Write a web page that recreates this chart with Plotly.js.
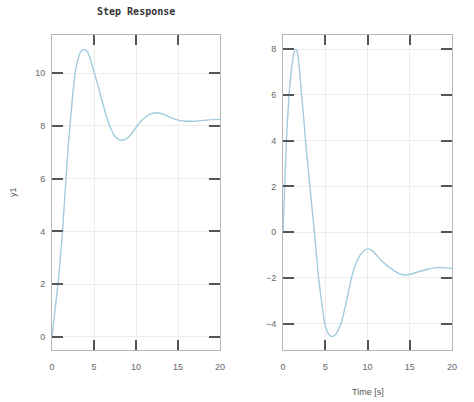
<!DOCTYPE html>
<html>
<head>
<meta charset="utf-8">
<script src="https://cdn.plot.ly/plotly-3.0.1.min.js"></script>
<style>
html,body{margin:0;padding:0;background:#fff;}
#chart{width:474px;height:402px;}
</style>
</head>
<body>
<div id="chart"></div>
<script>
// Left panel: y1 step response
var t1 = [0,0.25,0.5,0.75,1,1.25,1.5,1.75,2,2.25,2.5,2.75,3,3.25,3.5,3.85,4.25,4.5,5,5.5,6,6.5,7,7.5,8,8.33,8.75,9.25,10,10.5,11,11.5,12,12.6,13.2,13.75,14.5,15,16,17,18,19,20];
var y1 = [0,0.7,1.4,2.1,3.0,4.0,5.2,6.4,7.5,8.4,9.3,10.0,10.4,10.7,10.85,10.9,10.8,10.6,10.05,9.5,8.9,8.35,7.9,7.6,7.48,7.46,7.5,7.62,7.94,8.15,8.3,8.42,8.48,8.5,8.45,8.37,8.27,8.22,8.18,8.18,8.21,8.24,8.25];
// Right panel: y2 step response
var t2 = [0,0.1,0.2,0.3,0.4,0.55,0.72,0.9,1.1,1.3,1.5,1.7,1.9,2.05,2.2,2.45,2.67,2.92,3.18,3.45,3.72,3.97,4.21,4.55,4.92,5.25,5.55,5.9,6.2,6.5,6.9,7.5,8.1,8.6,9.1,9.6,10.1,10.7,11.4,12.2,13.0,13.7,14.4,15.2,16.1,17.0,18.1,19.0,20];
var y2 = [0,1.0,2.0,3.0,4.0,5.0,6.0,6.8,7.4,7.85,8.0,7.85,7.3,6.7,6.0,5.0,4.0,3.0,2.0,1.0,0,-1.0,-2.0,-3.0,-3.95,-4.35,-4.52,-4.55,-4.48,-4.3,-3.95,-3.05,-2.0,-1.4,-1.02,-0.8,-0.73,-0.85,-1.15,-1.43,-1.65,-1.8,-1.87,-1.83,-1.72,-1.63,-1.55,-1.55,-1.58];

var xTicks = [0,5,10,15,20];
var y1Ticks = [0,2,4,6,8,10];
var y2Ticks = [-4,-2,0,2,4,6,8];

var titleText = 'Step Response';
var yLabel = 'y1';
var xLabel = 'Time [s]';

var lineColor = '#a3cbe0';

function axisBase(){
  return {
    showline:true, linecolor:'#b5b5b5', linewidth:1, mirror:'ticks',
    ticks:'inside', ticklen:10, tickwidth:2, tickcolor:'#555',
    showgrid:true, gridcolor:'#ececec', gridwidth:1,
    zeroline:false,
    tickfont:{family:'Liberation Sans, Arial, sans-serif', size:9, color:'#666'}
  };
}

var traces = [
  {x:t1, y:y1, type:'scatter', mode:'lines', line:{color:lineColor, width:1.4, shape:'spline', smoothing:0.5}, xaxis:'x', yaxis:'y', hoverinfo:'skip'},
  {x:t2, y:y2, type:'scatter', mode:'lines', line:{color:lineColor, width:1.4, shape:'spline', smoothing:0.5}, xaxis:'x2', yaxis:'y2', hoverinfo:'skip'}
];

var xa = axisBase(); xa.domain=[52/474,220/474]; xa.range=[0,20]; xa.tickvals=xTicks; xa.anchor='y'; xa.ticklabelstandoff=8;
var ya = axisBase(); ya.domain=[52/402,367/402]; ya.range=[-0.5,11.45]; ya.tickvals=y1Ticks; ya.anchor='x'; ya.ticklabelstandoff=4; ya.ticklen=11;
var xa2 = axisBase(); xa2.domain=[283/474,452/474]; xa2.range=[0,20]; xa2.tickvals=xTicks; xa2.anchor='y2'; xa2.ticklabelstandoff=8;
var ya2 = axisBase(); ya2.domain=[52/402,367/402]; ya2.range=[-5.15,8.62]; ya2.tickvals=y2Ticks; ya2.anchor='x2'; ya2.ticklabelstandoff=4; ya2.ticklen=11;

var layout = {
  width:474, height:402,
  margin:{l:0,r:0,t:0,b:0},
  paper_bgcolor:'#fff', plot_bgcolor:'#fff',
  showlegend:false,
  xaxis:xa, yaxis:ya, xaxis2:xa2, yaxis2:ya2,
  annotations:[
    {text:titleText, xref:'paper', yref:'paper', x:136/474, y:(402-12)/402, xanchor:'center', yanchor:'middle', showarrow:false,
     font:{family:'DejaVu Sans Mono, monospace', size:10, color:'#333', weight:'bold'}},
    {text:yLabel, xref:'paper', yref:'paper', x:13/474, y:(402-192)/402, xanchor:'center', yanchor:'middle', showarrow:false, textangle:-90,
     font:{family:'Liberation Sans, Arial, sans-serif', size:9, color:'#555'}},
    {text:xLabel, xref:'paper', yref:'paper', x:368/474, y:(402-392)/402, xanchor:'center', yanchor:'middle', showarrow:false,
     font:{family:'Liberation Sans, Arial, sans-serif', size:9, color:'#555'}}
  ]
};

Plotly.newPlot('chart', traces, layout, {staticPlot:true, displayModeBar:false});
</script>
</body>
</html>
